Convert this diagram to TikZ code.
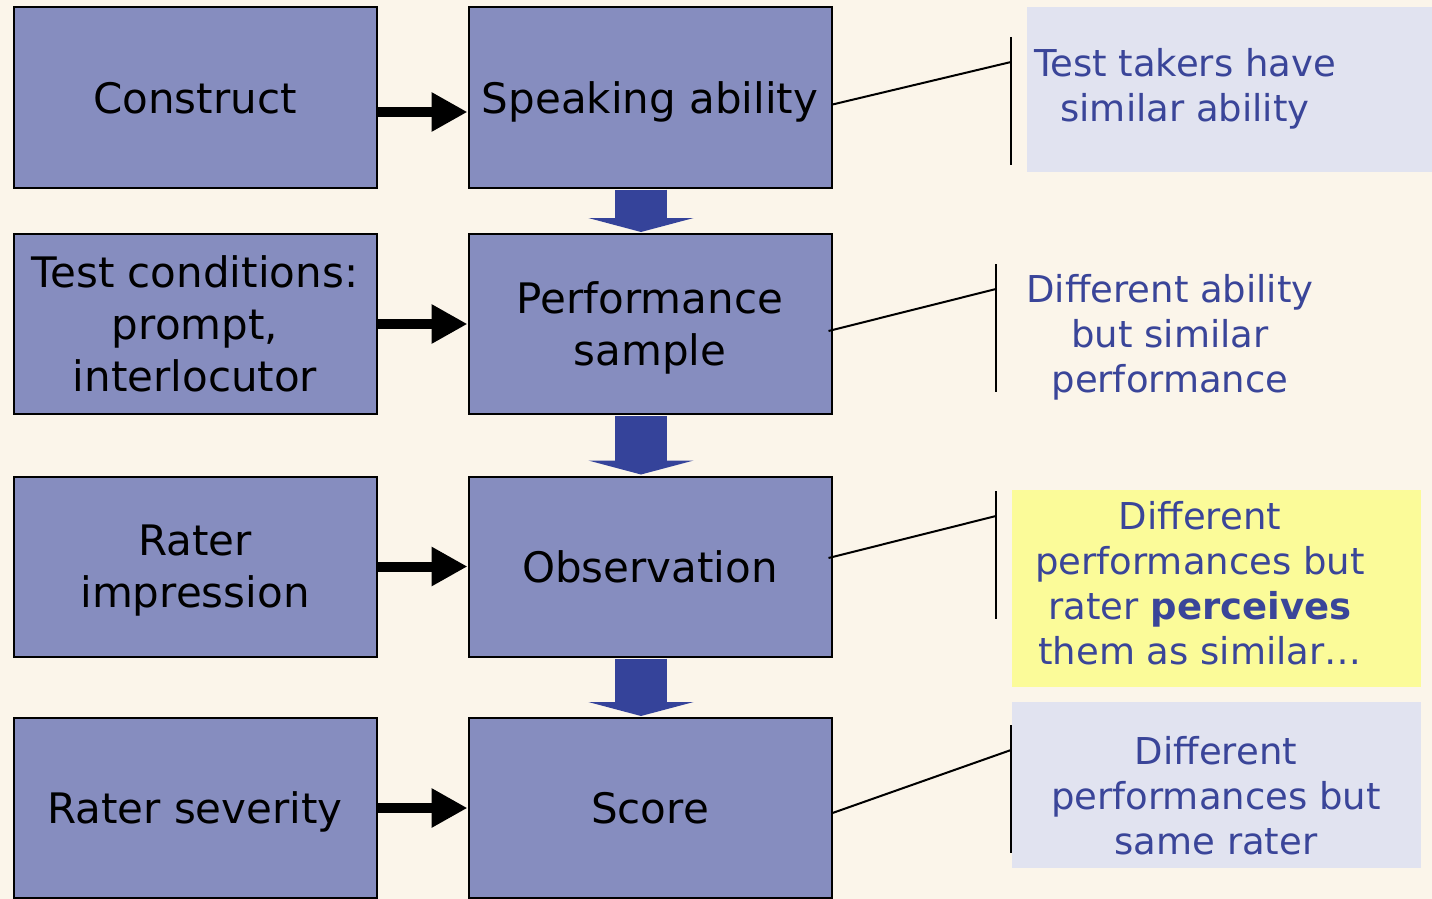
\documentclass[tikz,border=0pt]{standalone}
\usepackage{fontspec}
\setmainfont{DejaVu Sans}
\usetikzlibrary{arrows.meta}
\definecolor{bgc}{HTML}{FBF5EA}
\definecolor{boxc}{HTML}{868DBF}
\definecolor{darrow}{HTML}{35439A}
\definecolor{ctext}{HTML}{3A4599}
\definecolor{lav}{HTML}{E1E3F0}
\definecolor{yel}{HTML}{FBFB99}
\begin{document}
\begin{tikzpicture}[x=1pt,y=-1pt,
  flowbox/.style={draw=black, line width=2pt, fill=boxc, minimum width=363pt, minimum height=180pt, inner sep=0pt, align=center, text depth=0pt, font=\fontsize{42}{52}\selectfont},
  harrow/.style={line width=10pt, -{Triangle[length=36pt,width=37pt]}},
  varrow/.style={draw=darrow, line width=52pt, -{Triangle[length=14pt,width=105pt]}, shorten <=1pt, shorten >=1pt},
  callline/.style={draw=black, line width=2pt},
  barline/.style={draw=black, line width=2.4pt},
  calltext/.style={text=ctext, align=center, text depth=0pt, font=\fontsize{37}{45}\selectfont, inner sep=0pt},
  callbox/.style={inner sep=0pt, anchor=north west}]
\useasboundingbox (0,0) rectangle (1432,899);
\fill[bgc] (0,0) rectangle (1432,899);

% callout boxes
\node[callbox, fill=lav, minimum width=413pt, minimum height=165pt] (c1box) at (1027,7) {};
\node[callbox, fill=yel, minimum width=409pt, minimum height=197pt] (c3box) at (1012,490) {};
\node[callbox, fill=lav, minimum width=409pt, minimum height=166pt] (c4box) at (1012,702) {};

% flow boxes
\node[flowbox] (construct) at (195,97.5) {Construct};
\node[flowbox] (speaking) at (650,97.5) {Speaking ability};
\node[flowbox] (cond) at (195,324) {Test conditions:\\prompt,\\interlocutor};
\node[flowbox] (perf) at (650,324) {Performance\\sample};
\node[flowbox] (impr) at (195,566.5) {Rater\\impression};
\node[flowbox] (obs) at (650,566.5) {Observation};
\node[flowbox] (sev) at (195,808) {Rater severity};
\node[flowbox] (score) at (650,808) {Score};

% horizontal arrows
\draw[harrow] ([yshift=-14.5pt]construct.east) -- ([yshift=-14.5pt]speaking.west);
\draw[harrow] (cond.east) -- (perf.west);
\draw[harrow] (impr.east) -- (obs.west);
\draw[harrow] (sev.east) -- (score.west);

% vertical arrows
\draw[varrow] ([xshift=-9pt]speaking.south) -- ([xshift=-9pt]perf.north);
\draw[varrow] ([xshift=-9pt]perf.south) -- ([xshift=-9pt]obs.north);
\draw[varrow] ([xshift=-9pt]obs.south) -- ([xshift=-9pt]score.north);

% callout bars and lines
\coordinate (b1t) at (1011,37); \coordinate (b1b) at (1011,165); \coordinate (b1m) at (1011,62);
\coordinate (b2t) at (996,264); \coordinate (b2b) at (996,392); \coordinate (b2m) at (996,289);
\coordinate (b3t) at (996,491); \coordinate (b3b) at (996,619); \coordinate (b3m) at (996,516);
\coordinate (b4t) at (1011,725); \coordinate (b4b) at (1011,853); \coordinate (b4m) at (1011,750);
\draw[barline] (b1t) -- (b1b);
\draw[barline] (b2t) -- (b2b);
\draw[barline] (b3t) -- (b3b);
\draw[barline] (b4t) -- (b4b);
\draw[callline] ([yshift=-7pt]speaking.east) -- (b1m);
\draw[callline] ([xshift=-4pt,yshift=-7pt]perf.east) -- (b2m);
\draw[callline] ([xshift=-4pt,yshift=8.5pt]obs.east) -- (b3m);
\draw[callline] ([yshift=-5pt]score.east) -- (b4m);

% callout texts
\node[calltext] (c1text) at (1185,84.5) {Test takers have\\similar ability};
\node[calltext] (c2text) at (1170,333.5) {Different ability\\but similar\\performance};
\node[calltext] (c3text) at (1200,583) {Different\\performances but\\rater \textbf{perceives}\\them as similar…};
\node[calltext] (c4text) at (1216,795) {Different\\performances but\\same rater};
\end{tikzpicture}
\end{document}
